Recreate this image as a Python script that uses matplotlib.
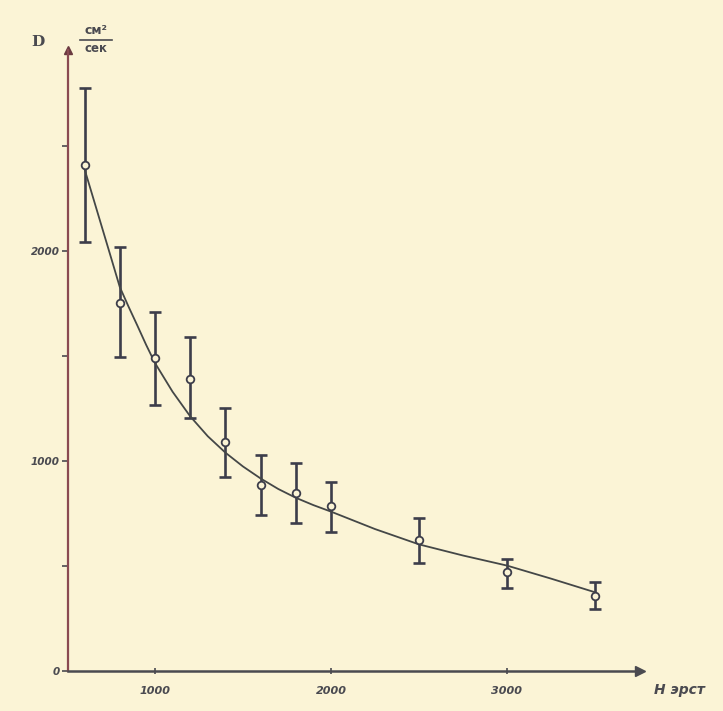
import matplotlib
matplotlib.use("Agg")
import matplotlib.pyplot as plt
from matplotlib.lines import Line2D

# Measured points (field H in oersted, diffusion D in cm^2/s)
H_pts = [600, 800, 1000, 1200, 1400, 1600, 1800, 2000, 2500, 3000, 3500]
D_pts = [2410, 1750, 1490, 1390, 1090, 886, 846, 788, 624, 470, 358]
D_top = [2776, 2019, 1710, 1592, 1252, 1027, 990, 900, 729, 531, 422]
D_bot = [2043, 1495, 1267, 1205, 924, 743, 705, 662, 516, 397, 295]

# Smooth curve
H_curve = [600, 650, 700, 750, 800, 850, 900, 950, 1000, 1100, 1200, 1300, 1400,
           1500, 1600, 1700, 1800, 1900, 2000, 2250, 2500, 2750, 3000, 3250, 3500]
D_curve = [2390, 2250, 2110, 1970, 1829, 1735, 1645, 1553, 1467, 1330, 1213, 1118, 1040,
           974, 917, 867, 825, 790, 759, 676, 603, 550, 502, 440, 375]

x_ticks = [1000, 2000, 3000]
x_tick_labels = ["1000", "2000", "3000"]
y_ticks = [0, 1000, 2000]
y_tick_labels = ["0", "1000", "2000"]
y_minor = [500, 1500, 2500]

paper = "#fbf4d6"
ink = "#3c3d4a"

fig = plt.figure(figsize=(7.23, 7.11), dpi=100, facecolor=paper)
ax = fig.add_axes([68 / 723, 1 - 671 / 711, (640 - 68) / 723, (671 - 50) / 711])
ax.set_facecolor(paper)
ax.set_xlim(506, 3756)
ax.set_ylim(0, 2957)

for s in ["top", "right"]:
    ax.spines[s].set_visible(False)
ax.spines["left"].set_color("#8a4a52")
ax.spines["left"].set_linewidth(1.6)
ax.spines["bottom"].set_color("#4a4a50")
ax.spines["bottom"].set_linewidth(1.8)

# arrows at axis ends
ax.plot(1, 0, ">", transform=ax.transAxes, color="#4a4a50", ms=7, clip_on=False)
ax.plot(0, 1, "^", transform=ax.transAxes, color="#6a3a40", ms=6, clip_on=False)

lo = [d - b for d, b in zip(D_pts, D_bot)]
hi = [t - d for d, t in zip(D_pts, D_top)]
ax.errorbar(H_pts, D_pts, yerr=[lo, hi], fmt="none", ecolor=ink,
            elinewidth=1.9, capsize=4.5, capthick=1.9, zorder=2)
ax.plot(H_curve, D_curve, color="#444747", lw=1.3, zorder=3)
ax.plot(H_pts, D_pts, "o", ms=5.5, mfc=paper, mec=ink, mew=1.3, zorder=4)

ax.set_xticks(x_ticks)
ax.set_xticklabels(x_tick_labels, fontsize=8, fontstyle="italic",
                   fontweight="bold", color="#4a4a50")
ax.set_yticks(y_ticks)
ax.set_yticklabels(y_tick_labels, fontsize=7.5, fontstyle="italic",
                   fontweight="bold", color="#4a4a50")
ax.set_yticks(y_minor, minor=True)
ax.tick_params(axis="x", length=5, width=1.2, color="#4a4a50", direction="inout", pad=8)
ax.tick_params(axis="y", which="both", length=4, width=1.2, color="#4a4a50",
               direction="out", pad=2)

# axis labels
fig.text(0.87 + 0.035, 1 - 690 / 711, "H эрст", fontsize=10, fontstyle="italic",
         fontweight="bold", color="#4a4a50", ha="left", va="center")
fig.text(38 / 723, 1 - 42 / 711, "D", fontsize=11, fontweight="bold",
         color="#4a4a50", ha="center", va="center", family="serif")
fig.text(96 / 723, 1 - 37 / 711, "см²", fontsize=9, fontweight="bold",
         color="#4a4a50", ha="center", va="bottom")
fig.text(96 / 723, 1 - 42 / 711, "сек", fontsize=8.5, fontweight="bold",
         color="#4a4a50", ha="center", va="top")
fig.add_artist(Line2D([80 / 723, 112 / 723], [1 - 40 / 711, 1 - 40 / 711],
                      color="#4a4a50", lw=1.2))

fig.savefig("out.png", dpi=100, facecolor=paper)
